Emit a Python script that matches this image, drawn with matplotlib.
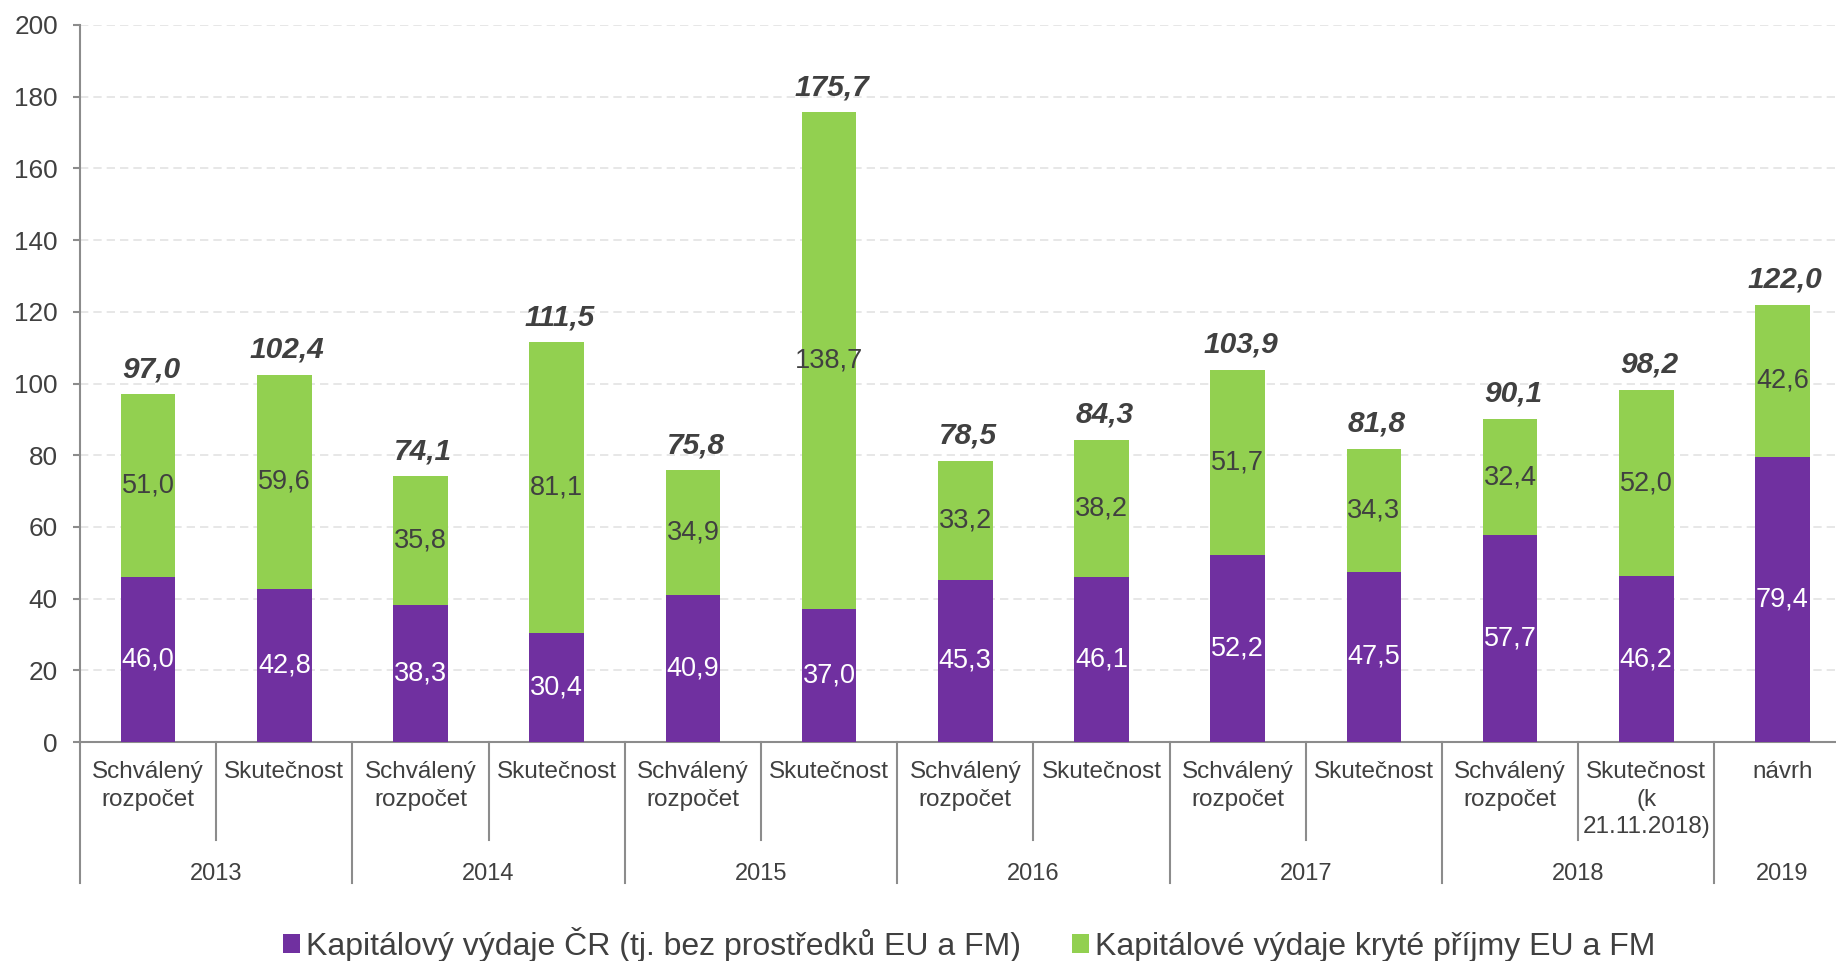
import matplotlib
matplotlib.use("Agg")
import matplotlib.pyplot as plt
import matplotlib.transforms as mtransforms
from matplotlib.patches import Patch

plt.rcParams['font.family'] = ['Liberation Sans', 'DejaVu Sans']

# data
categories = ["Schválený\nrozpočet", "Skutečnost",
              "Schválený\nrozpočet", "Skutečnost",
              "Schválený\nrozpočet", "Skutečnost",
              "Schválený\nrozpočet", "Skutečnost",
              "Schválený\nrozpočet", "Skutečnost",
              "Schválený\nrozpočet", "Skutečnost\n(k\n21.11.2018)",
              "návrh"]
years = ["2013", "2014", "2015", "2016", "2017", "2018", "2019"]
year_size = [2, 2, 2, 2, 2, 2, 1]

cr_vals = [46.0, 42.8, 38.3, 30.4, 40.9, 37.0, 45.3, 46.1, 52.2, 47.5, 57.7, 46.2, 79.4]
eu_vals = [51.0, 59.6, 35.8, 81.1, 34.9, 138.7, 33.2, 38.2, 51.7, 34.3, 32.4, 52.0, 42.6]
totals = [97.0, 102.4, 74.1, 111.5, 75.8, 175.7, 78.5, 84.3, 103.9, 81.8, 90.1, 98.2, 122.0]

series_names = ["Kapitálový výdaje ČR (tj. bez prostředků EU a FM)",
                "Kapitálové výdaje kryté příjmy EU a FM"]

PURPLE = "#7030A0"
GREEN = "#92D050"
TXT = "#404040"
AXC = "#8c8c8c"

def fmt(v):
    return f"{v:.1f}".replace(".", ",")

fig = plt.figure(figsize=(18.36, 9.61), dpi=100)
ax_h = 717 / 961
ax = fig.add_axes([80 / 1836, 219 / 961, 13 * 136.2 / 1836, ax_h])

x = list(range(len(categories)))
ax.bar(x, cr_vals, width=0.4, color=PURPLE, zorder=3)
ax.bar(x, eu_vals, width=0.4, bottom=cr_vals, color=GREEN, zorder=3)

for i in x:
    ax.text(i, cr_vals[i] / 2, fmt(cr_vals[i]), ha='center', va='center',
            color='white', fontsize=19.5, zorder=4)
    ax.text(i, cr_vals[i] + eu_vals[i] / 2, fmt(eu_vals[i]), ha='center', va='center',
            color=TXT, fontsize=19.5, zorder=4)
    ax.annotate(fmt(totals[i]), xy=(i, totals[i]), xytext=(2, 18),
                textcoords='offset points', ha='center', va='center',
                fontsize=21.5, fontweight='bold', fontstyle='italic', color=TXT)

ax.set_xlim(-0.5, 12.5)
ax.set_ylim(0, 200)
ax.set_yticks(range(0, 201, 20))
ax.set_xticks([])
ax.tick_params(axis='y', colors=AXC, labelcolor=TXT, labelsize=18.8,
               length=5, width=1.5, pad=11)
for s in ['top', 'right']:
    ax.spines[s].set_visible(False)
for s in ['left', 'bottom']:
    ax.spines[s].set_color(AXC)
    ax.spines[s].set_linewidth(1.5)
ax.yaxis.grid(True, linestyle=(0, (5, 3)), color='#e3e3e3', linewidth=1.2, zorder=0)
ax.set_axisbelow(True)

# category labels
trans = mtransforms.blended_transform_factory(ax.transData, ax.transAxes)
for i, lab in enumerate(categories):
    ax.annotate(lab, xy=(i, 0), xycoords=trans, xytext=(0, -14),
                textcoords='offset points', ha='center', va='top',
                fontsize=17.5, color=TXT, linespacing=1.32)

# year labels and separators
start = -0.5
for y, n in zip(years, year_size):
    mid = start + n / 2
    ax.annotate(y, xy=(mid, 0), xycoords=trans, xytext=(0, -95),
                textcoords='offset points', ha='center', va='center',
                fontsize=17, color=TXT)
    ax.plot([start, start], [0, -141 / 717], transform=trans, color=AXC,
            lw=1.5, clip_on=False)
    if n == 2:
        ax.plot([start + 1, start + 1], [0, -98 / 717], transform=trans,
                color=AXC, lw=1.5, clip_on=False)
    start += n
ax.plot([start, start], [0, -141 / 717], transform=trans, color=AXC,
        lw=1.5, clip_on=False)

handles = [Patch(facecolor=PURPLE, edgecolor='none'),
           Patch(facecolor=GREEN, edgecolor='none')]
fig.legend(handles, series_names, loc='center', ncol=2,
           bbox_to_anchor=(969 / 1836, 17 / 961), frameon=False,
           fontsize=23, labelcolor=TXT, handlelength=0.55, handleheight=0.55,
           handletextpad=0.17, columnspacing=1.6, borderpad=0, borderaxespad=0)

fig.savefig("out.png", dpi=100)
